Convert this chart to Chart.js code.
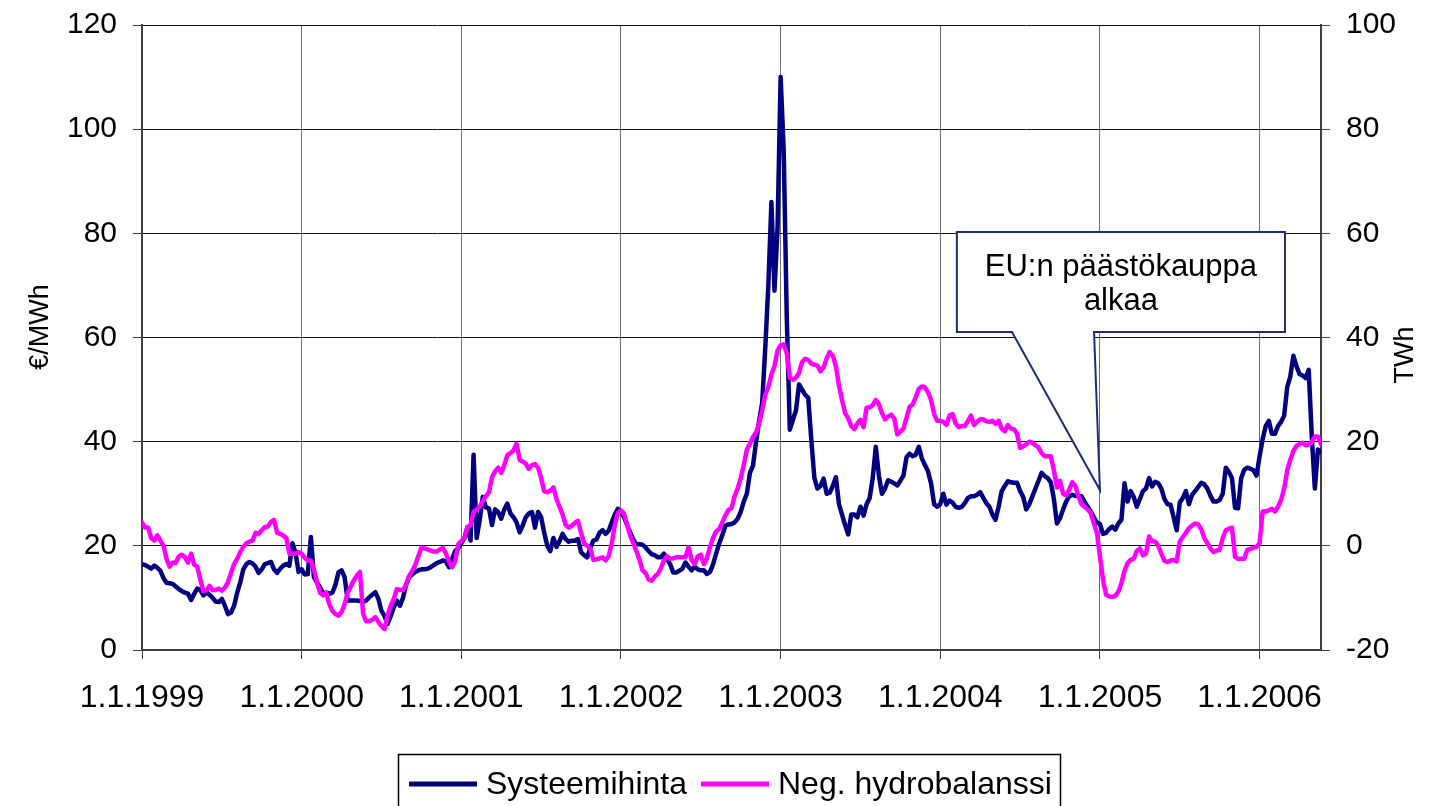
<!DOCTYPE html>
<html><head><meta charset="utf-8">
<script src="https://cdn.jsdelivr.net/npm/chart.js@4.4.1/dist/chart.umd.min.js"></script>
<style>html,body{margin:0;padding:0;background:#fff;}canvas{display:block;}</style>
</head><body>
<canvas id="c" width="1445" height="806"></canvas>
<script>
// ---- Data: weekly values, 52 weeks per year (week k of year Y plotted at Y + k/52) ----
const years = [1999, 2000, 2001, 2002, 2003, 2004, 2005, 2006];
const xTickLabels = ['1.1.1999','1.1.2000','1.1.2001','1.1.2002','1.1.2003','1.1.2004','1.1.2005','1.1.2006'];
const seriesNames = ['Systeemihinta', 'Neg. hydrobalanssi'];

// Systeemihinta, €/MWh (left axis)
const price1999 = [16.5,16.3,16,15.6,16.2,15.8,15.2,13.8,12.9,12.8,12.7,12.2,11.7,11.3,11,10.8,9.6,10.8,11.8,11.5,10.5,11.1,10.6,10,9.3,9.2,9.8,8.5,6.9,7.2,8.5,11,13,15.5,16.5,16.9,16.6,16,14.8,15.5,16.5,16.7,16.9,15.5,14.8,15.6,16.2,16.5,16.2,20.5,18.7,15];
const price2000 = [15.5,14.5,14.6,21.7,14,13,12,10.8,11,10.8,11,12.5,14.9,15.3,14,9.5,9.5,9.5,9.5,9.4,9.2,9.5,10.1,10.6,11.1,9.8,7.5,6.5,5,6.5,8.2,9.5,8.5,10,12.5,14,14.5,15,15.3,15.5,15.5,15.6,15.9,16.3,16.7,16.9,17.2,17,15.9,17.5,19,19.5];
const price2001 = [20.5,21.5,23.6,21,37.5,21.5,25,29.4,27.4,27.2,24,27,26.5,25.2,27,28.1,26.2,25.5,24.5,22.6,23.9,25.5,26.2,26.5,23.5,26.5,25.5,22.5,20,19,21.5,19.8,20.9,22.3,21.3,20.8,21,21,21.3,18.8,18.2,17.8,19.6,21,21.2,22.5,23,22.3,22.9,24.5,26,27.1];
const price2002 = [26.5,25.5,24,22.6,21.2,20.3,20.3,20.2,19.7,19,18.4,18.2,17.8,17.8,18.5,17.5,16.5,14.9,14.9,15.2,15.6,16.8,16,15.3,16,15.5,15.3,15.3,14.6,15,16.5,18.5,20.5,22,23.9,24.1,24.2,24.5,25.2,26.5,28.5,30,34,35.4,40,44,47.5,58,70,86,69,81];
const price2003 = [110,96,64,42.3,44.2,46,51,50,49,48.4,40.3,33,31,31.5,32.9,30,30.2,31.5,33.2,28,26,24,22.2,26,26,25.5,27.5,25.8,28,29.2,33,39,33.5,30,31,32.6,32.3,32,31.6,32.5,33.5,37,37.7,37.2,37.5,39,36.8,35.5,34.3,32,28,27.5];
const price2004 = [28,30,27.9,28.7,28.3,27.5,27.3,27.5,28.2,29.2,29.5,29.5,29.8,30.3,29.2,28.2,27.5,26,25,27.5,30.5,31.5,32.4,32.2,32.1,32.1,30.5,29.4,27,28,29.5,31,32.5,34,33.4,33,32.2,29,24.3,25.3,27,28.5,29.5,29.8,29.6,29.5,29.5,28.5,27.5,26.6,25.5,24.5];
const price2005 = [24.2,22.3,22.5,23.2,23.7,23.1,24.3,25,32,28.5,30.5,29.4,27.5,29,30.5,31,33,31.4,32.3,32,31,29,28,27.9,25.5,23,28.3,29.2,30.5,28,29.8,30.5,31.3,32.1,31.8,31,29.6,28.5,28.5,28.8,30,35,34.2,33,27.3,27.2,33,34.6,35,34.8,34.5,33.5];
const price2006 = [37.2,40.5,43,44,41.5,41.5,43,43.8,45,50.5,52.5,56.5,54.5,53,52.7,52.2,53.8,41,31,38.5,38];

// Neg. hydrobalanssi, TWh (right axis)
const hydro1999 = [4.5,3.5,3.5,1.5,1,2,1,0,-2.5,-4,-3.2,-3.3,-2,-1.7,-2.2,-3.2,-1.5,-3.6,-4,-6.5,-8.7,-8.5,-7.7,-8.5,-8.5,-8.2,-8.6,-8,-7,-5.2,-3.5,-2.5,-1.2,-0.2,0.5,0.8,1,2.5,2.3,3,3.6,3.7,4.6,5,2.5,2.3,2,1.5,-1.5,-1.5,-1.5,-1.2];
const hydro2000 = [-1.5,-2.3,-2.8,-2.8,-4.5,-7,-9,-9.5,-9,-11.2,-12.5,-13.1,-13.4,-12.7,-11.2,-9,-7.8,-6.6,-5.7,-5,-13,-14.5,-14.5,-14.2,-13.7,-14.6,-15.4,-16,-13.3,-11.5,-10.2,-8.3,-8.5,-8.5,-7.5,-5.8,-4.8,-3.7,-2,-0.3,-0.5,-0.7,-0.9,-1.1,-1.1,-0.7,-0.4,-1.5,-3,-4.1,-3,0.3];
const hydro2001 = [0.9,1.5,3.6,4,6.5,7,7.5,8.6,9.5,10.3,13.2,14.3,15,14,15.5,17.4,17.8,18.3,19.6,16.5,16.2,15.8,14.8,15.5,15.7,15,13,10.5,10.3,10.6,11.2,9,7.5,6,4,3.5,3.9,4.4,4.8,2.5,0.5,0,-0.5,-2.7,-2.6,-2.4,-2.2,-2.8,-2,0.5,4,6.3];
const hydro2002 = [6.8,6.2,4,2,0.5,-1,-2.6,-4.7,-5.2,-6.5,-6.7,-5.9,-5.4,-4.3,-2.8,-2,-2.5,-2.4,-2.2,-2.2,-2.2,-2.2,-0.3,-2.7,-3.5,-2,-1.7,-3.5,-2.4,-0.2,1.5,2.8,3.2,4.5,5.8,6.9,7.2,9.5,11,13,15.5,18.5,19.6,20.9,21.8,23.5,26,29,30.5,32.9,34.5,37.5];
const hydro2003 = [38.5,38.7,37,32.3,31.9,32.3,33.2,35.3,35.9,35.7,35,34.8,34.6,33.5,34.3,36,37.2,36.5,34.5,30.8,28,25.5,24.5,23,22.4,23.5,24.2,22.8,26.5,26.6,27,28,27.2,25.5,24.3,24.8,25.2,24.5,21.4,21.9,22.5,24.5,26.7,27.1,28.5,30.1,30.6,30.4,29.5,28,25.3,24];
const hydro2004 = [24,23.8,23.2,25,25.3,23.5,22.8,23,23,24,25,23.2,23.8,24.3,24.3,23.9,23.8,24,23.4,24,22.5,22,23.2,22.5,22.4,21.5,18.8,19.1,19.5,20,19.8,19.3,18.9,17.8,17.2,17.2,17.2,14.5,11.2,12.5,10,9.7,10.8,12.2,11.5,9.5,8,7.5,7,6.3,4.3,2.6];
const hydro2005 = [-2,-6.5,-9.4,-9.7,-9.8,-9.6,-8.8,-7.2,-4.8,-3.3,-2.7,-2.5,-1,-0.5,-1.8,-1.5,1.8,0.9,0.8,0,-1.5,-2.9,-3.1,-2.8,-2.7,-3,0.8,1.7,2.5,3.4,3.9,4.3,4.1,3.2,1.5,0.5,-0.5,-1.2,-0.9,-0.8,1.5,3,3.3,3.5,-2.1,-2.5,-2.5,-2.5,-0.8,-0.6,-0.4,-0.2];
const hydro2006 = [0.5,6.6,6.6,6.8,7.1,6.6,7.5,8.8,11,14.5,16.5,18.2,19.2,19.5,19.8,19.3,19.5,19.9,21,21,19.5];

const priceByYear = [price1999, price2000, price2001, price2002, price2003, price2004, price2005, price2006];
const hydroByYear = [hydro1999, hydro2000, hydro2001, hydro2002, hydro2003, hydro2004, hydro2005, hydro2006];

// Callout annotation (anchored in data units)
const calloutText = ['EU:n päästökauppa', 'alkaa'];
const calloutBox = {x1: 2004.104, x2: 2006.159, yTop: 80.26, yBottom: 61.06};
const calloutPointer = {baseX1: 2004.449, baseX2: 2004.963, tipX: 2005.0, tipY: 30.7};

function toPoints(byYear) {
  const pts = [];
  byYear.forEach((arr, i) => arr.forEach((v, k) => pts.push({x: years[i] + k / 52, y: v})));
  return pts;
}

const NAVY = '#000080', MAGENTA = '#FF00FF', AXIS = '#404040';
const FONT = 'Liberation Sans, Arial, sans-serif';

const overlayPlugin = {
  id: 'overlay',
  afterDatasetsDraw(chart) {
    const ctx = chart.ctx, xs = chart.scales.x, ys = chart.scales.y;
    const bx1 = xs.getPixelForValue(calloutBox.x1), bx2 = xs.getPixelForValue(calloutBox.x2);
    const by1 = ys.getPixelForValue(calloutBox.yTop), by2 = ys.getPixelForValue(calloutBox.yBottom);
    const px1 = xs.getPixelForValue(calloutPointer.baseX1), px2 = xs.getPixelForValue(calloutPointer.baseX2);
    const tx = xs.getPixelForValue(calloutPointer.tipX), ty = ys.getPixelForValue(calloutPointer.tipY);
    ctx.save();
    ctx.beginPath();
    ctx.moveTo(bx1, by1); ctx.lineTo(bx2, by1); ctx.lineTo(bx2, by2);
    ctx.lineTo(px2, by2); ctx.lineTo(tx, ty); ctx.lineTo(px1, by2);
    ctx.lineTo(bx1, by2); ctx.closePath();
    ctx.fillStyle = '#fff'; ctx.fill();
    ctx.strokeStyle = '#1F2D7A'; ctx.lineWidth = 2; ctx.lineJoin = 'miter'; ctx.stroke();
    ctx.fillStyle = '#000'; ctx.font = '31px ' + FONT;
    ctx.textAlign = 'center'; ctx.textBaseline = 'middle';
    const cx = (bx1 + bx2) / 2;
    ctx.fillText(calloutText[0], cx, by1 + 35);
    ctx.fillText(calloutText[1], cx, by1 + 69);
    ctx.restore();
  },
  afterDraw(chart) {
    const ctx = chart.ctx;
    ctx.save();
    ctx.fillStyle = '#000'; ctx.font = '27px ' + FONT;
    ctx.textAlign = 'center'; ctx.textBaseline = 'middle';
    ctx.translate(41, 327); ctx.rotate(-Math.PI / 2); ctx.fillText('€/MWh', 0, 0);
    ctx.setTransform(1, 0, 0, 1, 0, 0);
    ctx.translate(1406, 355); ctx.rotate(-Math.PI / 2); ctx.fillText('TWh', 0, 0);
    ctx.setTransform(1, 0, 0, 1, 0, 0);
    ctx.strokeStyle = '#000'; ctx.lineWidth = 1.5;
    ctx.strokeRect(398.5, 754.5, 662, 62);
    ctx.font = '32px ' + FONT; ctx.textAlign = 'left'; ctx.textBaseline = 'middle';
    const ly = 784;
    let x = 409;
    const colors = [NAVY, MAGENTA];
    seriesNames.forEach((name, i) => {
      ctx.strokeStyle = colors[i]; ctx.lineWidth = 5; ctx.lineCap = 'butt';
      ctx.beginPath(); ctx.moveTo(x, ly); ctx.lineTo(x + 68, ly); ctx.stroke();
      x += 77;
      ctx.fillStyle = '#000'; ctx.fillText(name, x, ly + 1);
      x += ctx.measureText(name).width + 14;
    });
    ctx.restore();
  }
};

const noVertPadding = (s) => { s.paddingTop = 0; s.paddingBottom = 0; };

new Chart(document.getElementById('c'), {
  type: 'line',
  data: {
    datasets: [
      {label: seriesNames[0], data: toPoints(priceByYear), yAxisID: 'y', borderColor: NAVY, borderWidth: 4.5,
       pointRadius: 0, tension: 0, borderJoinStyle: 'round', borderCapStyle: 'round', order: 1},
      {label: seriesNames[1], data: toPoints(hydroByYear), yAxisID: 'y2', borderColor: MAGENTA, borderWidth: 4.5,
       pointRadius: 0, tension: 0, borderJoinStyle: 'round', borderCapStyle: 'round', order: 0}
    ]
  },
  options: {
    responsive: false, animation: false, devicePixelRatio: 1,
    layout: {padding: {top: 25, left: 0, right: 0, bottom: 0}},
    plugins: {legend: {display: false}, tooltip: {enabled: false}},
    scales: {
      x: {
        type: 'linear', min: 1999, max: 2006 + 20 / 52,
        afterBuildTicks: (s) => { s.ticks = years.map(v => ({value: v})); },
        afterFit: (s) => { s.height = 156; },
        ticks: {callback: (v) => xTickLabels[years.indexOf(v)], color: '#000', font: {family: FONT, size: 32},
                padding: 20, maxRotation: 0, autoSkip: false},
        grid: {color: '#707070', lineWidth: 1, tickLength: 9, tickColor: AXIS},
        border: {color: AXIS, width: 2}
      },
      y: {
        position: 'left', min: 0, max: 120,
        afterFit: (s) => { s.width = 142; noVertPadding(s); },
        ticks: {stepSize: 20, color: '#000', font: {family: FONT, size: 30}, padding: 16},
        grid: {color: '#111', lineWidth: 1, tickLength: 9, tickColor: AXIS},
        border: {color: AXIS, width: 2}
      },
      y2: {
        position: 'right', min: -20, max: 100,
        afterFit: (s) => { s.width = 124; noVertPadding(s); },
        ticks: {stepSize: 20, color: '#000', font: {family: FONT, size: 30}, padding: 16},
        grid: {drawOnChartArea: false, tickLength: 9, color: AXIS},
        border: {color: AXIS, width: 2}
      }
    }
  },
  plugins: [overlayPlugin]
});
</script>
</body></html>
